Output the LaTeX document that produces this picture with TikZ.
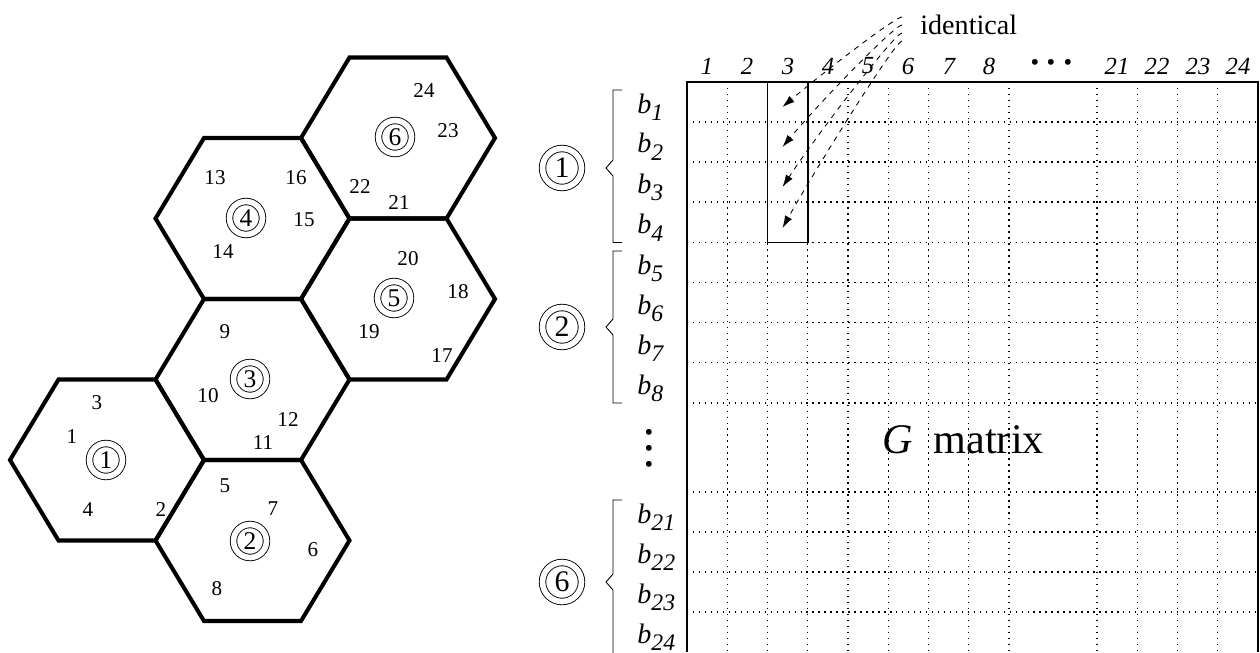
\documentclass[tikz,border=0pt]{standalone}
\usepackage{fontspec}
\setmainfont{Liberation Serif}
\usetikzlibrary{arrows.meta}
\newcommand{\bvar}[1]{\textit{b\raisebox{-4.5pt}{\fontsize{13.5}{13.5}\selectfont #1}}}

\begin{document}
\begin{tikzpicture}[x=0.02cm,y=-0.02cm,
  hexline/.style={line width=2.3pt},
  cellid/.style={circle,draw,double,double distance=3.2pt,line width=0.5pt,inner sep=0pt,minimum size=0.66cm,font=\fontsize{14.5}{14.5}\selectfont},
  groupid/.style={cellid,minimum size=0.78cm,font=\fontsize{17}{17}\selectfont},
  slot/.style={inner sep=0pt,font=\fontsize{12}{12}\selectfont},
  colno/.style={inner sep=0pt,font=\fontsize{14}{14}\selectfont\itshape},
  rowlab/.style={anchor=base west,inner sep=0pt,font=\fontsize{16}{16}\selectfont},
  dot/.style={inner sep=0pt,text height=6.5pt,text depth=0pt,font=\fontsize{14}{14}\selectfont},
  gridline/.style={line width=0.6pt,dash pattern=on 0.8pt off 2.6pt},
  frame/.style={line width=1pt},
  bracket/.style={line width=0.5pt},
  same/.style={dashed,line width=0.5pt,-{Latex[length=7pt,width=4.5pt]}}]
  \clip (0,0) rectangle (1260,652);

  % cells
  \foreach \cx/\cy in {107/460, 252.5/540.5, 252.5/379.5, 252.5/218.5, 398/299, 398/138}{
    \draw[hexline] (\cx-97,\cy) -- (\cx-48.5,\cy-80.5) -- (\cx+48.5,\cy-80.5) -- (\cx+97,\cy)
      -- (\cx+48.5,\cy+80.5) -- (\cx-48.5,\cy+80.5) -- cycle;
  }
  \foreach \n/\x/\y in {1/106/460, 2/250/541, 3/250/379, 4/246/218, 5/394/298, 6/395/137}
    \node[cellid] (c\n) at (\x,\y) {\n};
  \foreach \n/\x/\y in {1/72/437, 2/161/510, 3/97/403, 4/88/510, 5/225/486, 6/313/550,
      7/273/509, 8/217/589, 9/225/332, 10/208/396, 11/263/443, 12/288/420,
      13/215/178, 14/223/252, 15/304/220, 16/296/178, 17/442/356, 18/458/292,
      19/369/332, 20/408/259, 21/399/203, 22/360/187, 23/448/131, 24/424/91}
    \node[slot] (s\n) at (\x,\y) {\n};

  % G matrix
  \foreach \x in {727.25,767.5,807.75,848,888.25,928.5,968.75,1009,1097,1137.25,1177.5,1217.75}
    \draw[gridline] (\x,82) -- (\x,652);
  \foreach \y in {122,162,202,242.5,282.6,322.75,362.9,403,492,532,572,612}
    \draw[gridline] (687,\y) -- (1258,\y);
  \draw[frame] (687,652) -- (687,82) -- (1258,82) -- (1258,652);
  \draw[frame] (767.5,82) rectangle (807.75,242.5);
  \node[inner sep=0pt,font=\fontsize{24}{24}\selectfont] (gm) at (963,440) {\textit{G}\ \ matrix};

  \foreach \i/\x in {1/707,2/747,3/788,4/828,5/868,6/908,7/949,8/989,21/1117,22/1157,23/1198,24/1238}
    \node[colno] (n\i) at (\x,66) {\i};
  \foreach \k/\x in {1/1035,2/1051,3/1068}
    \node[dot] (hd\k) at (\x,65) {\textbullet};

  \foreach \i/\y in {1/113,2/153,3/193,4/233.5,5/274,6/314,7/354,8/394,21/523,22/563,23/603,24/643}
    \node[rowlab] (b\i) at (637,\y) {\bvar{\i}};
  \foreach \k/\y in {1/435,2/451,3/467}
    \node[dot] (vd\k) at (649,\y) {\textbullet};

  \foreach \t/\b/\m in {90/242.5/168, 251/403/327, 500/664/582}
    \draw[bracket] (622,\t) -- (613,\t) -- (613,\m-8) -- (606,\m) -- (613,\m+8) -- (613,\b) -- (622,\b);
  \foreach \n/\m in {1/168, 2/327, 6/582}
    \node[groupid] (g\n) at (562,\m) {\n};

  % identical columns
  \node[anchor=west,inner sep=0pt,font=\fontsize{16}{16}\selectfont] (ident) at (920,25) {identical};
  \foreach \k/\sy/\ty/\dx/\dy in {1/17/107/40/-34, 2/25/147/40/-48, 3/33/187/34/-52, 4/41/228/30/-54}{
    \coordinate (from\k) at (902,\sy);
    \coordinate (to\k) at (782.5,\ty);
    \draw[same] (from\k) .. controls +(-7,0) and +(\dx,\dy) .. (to\k);
  }
\end{tikzpicture}
\end{document}
